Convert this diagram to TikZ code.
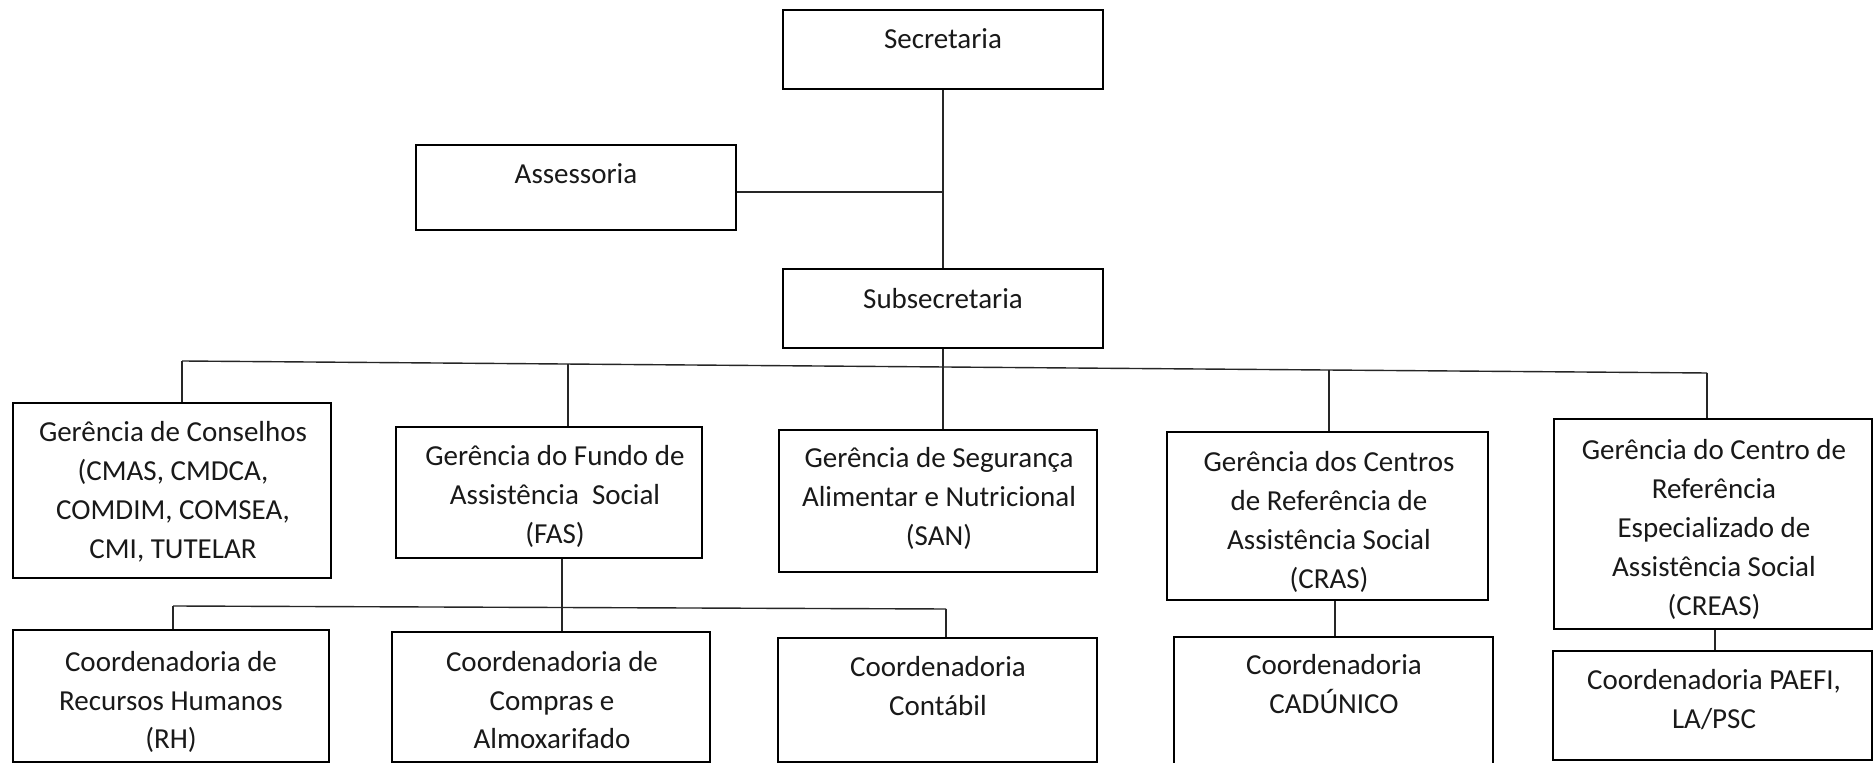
\documentclass[tikz,border=0pt]{standalone}
\usepackage{fontspec}
\setmainfont{Carlito}
\usetikzlibrary{calc}
\tikzset{
  boxst/.style={draw=black, line width=1.3pt, rectangle, inner sep=0pt},
  txt/.style={font=\fontsize{14.5}{19.5}\selectfont, align=center, anchor=base, inner sep=0pt, text=black!90},
  link/.style={draw=black!85, line width=0.7pt},
}
\newcommand\orgbox[5]{\node[boxst, minimum width={(#4-#2)*0.5pt}, minimum height={(#5-#3)*0.5pt}] (#1) at ({(#2+#4)/2},{(#3+#5)/2}) {};}
\begin{document}
\begin{tikzpicture}[x=0.5pt,y=-0.5pt]
\useasboundingbox (0,0) rectangle (1874,763);
\clip (0,0) rectangle (1874,763);
\fill[white] (0,0) rectangle (1874,763);
% boxes
\orgbox{sec}{783}{10}{1103}{89}
\orgbox{ass}{416}{145}{736}{230}
\orgbox{sub}{783}{269}{1103}{348}
\orgbox{cons}{13}{403}{331}{578}
\orgbox{fas}{396}{427}{702}{558}
\orgbox{san}{779}{430}{1097}{572}
\orgbox{cras}{1167}{432}{1488}{600}
\orgbox{creas}{1554}{419}{1872}{629}
\orgbox{rh}{13}{630}{329}{762}
\orgbox{comp}{392}{632}{710}{762}
\orgbox{cont}{778}{638}{1097}{762}
\orgbox{cad}{1174}{637}{1493}{780}
\orgbox{paefi}{1553}{651}{1872}{760}
% texts (anchor = baseline of the last line)
\node[txt] (tsec) at (943,49) {Secretaria};
\node[txt] (tass) at (576,184) {Assessoria};
\node[txt] (tsub) at (943,309) {Subsecretaria};
\node[txt] (tcons) at (173,559) {Gerência de Conselhos\\(CMAS, CMDCA,\\COMDIM, COMSEA,\\CMI, TUTELAR};
\node[txt] (tfas) at (555,544) {Gerência do Fundo de\\Assistência~ Social\\(FAS)};
\node[txt] (tsan) at (939,546) {Gerência de Segurança\\Alimentar e Nutricional\\(SAN)};
\node[txt] (tcras) at (1329,589) {Gerência dos Centros\\de Referência de\\Assistência Social\\(CRAS)};
\node[txt] (tcreas) at (1714,616) {Gerência do Centro de\\Referência\\Especializado de\\Assistência Social\\(CREAS)};
\node[txt] (trh) at (171,749) {Coordenadoria de\\Recursos Humanos\\(RH)};
\node[txt] (tcomp) at (552,749) {Coordenadoria de\\Compras e\\Almoxarifado};
\node[txt] (tcont) at (938,716) {Coordenadoria\\Contábil};
\node[txt] (tcad) at (1334,714) {Coordenadoria\\CADÚNICO};
\node[txt] (tpaefi) at (1714,729) {Coordenadoria PAEFI,\\LA/PSC};
% connectors
\draw[link] (sec.south) -- (sub.north);
\coordinate (aj) at (943,192);
\draw[link] (ass.east |- aj) -- (aj);
\coordinate (busL) at (182,361);
\coordinate (busR) at (1707,373);
\draw[link] (busL) -- (busR);
\draw[link] (sub.south) -- (sub.south |- san.north);
\coordinate (d2) at ($(busL)!{(568-182)/(1707-182)}!(busR)$);
\coordinate (d4) at ($(busL)!{(1329-182)/(1707-182)}!(busR)$);
\draw[link] (busL) -- (busL |- cons.north);
\draw[link] (d2) -- (d2 |- fas.north);
\draw[link] (d4) -- (d4 |- cras.north);
\draw[link] (busR) -- (busR |- creas.north);
\coordinate (sbL) at (173,606);
\coordinate (sbR) at (946,609);
\coordinate (fd) at (562,607.5);
\draw[link] (fas.south -| fd) -- (fd);
\draw[link] (sbL) -- (sbR);
\draw[link] (sbL) -- (sbL |- rh.north);
\draw[link] (fd) -- (fd |- comp.north);
\draw[link] (sbR) -- (sbR |- cont.north);
\coordinate (cx) at (1335,0);
\draw[link] (cras.south -| cx) -- (cad.north -| cx);
\coordinate (px) at (1715,0);
\draw[link] (creas.south -| px) -- (paefi.north -| px);
\end{tikzpicture}
\end{document}
